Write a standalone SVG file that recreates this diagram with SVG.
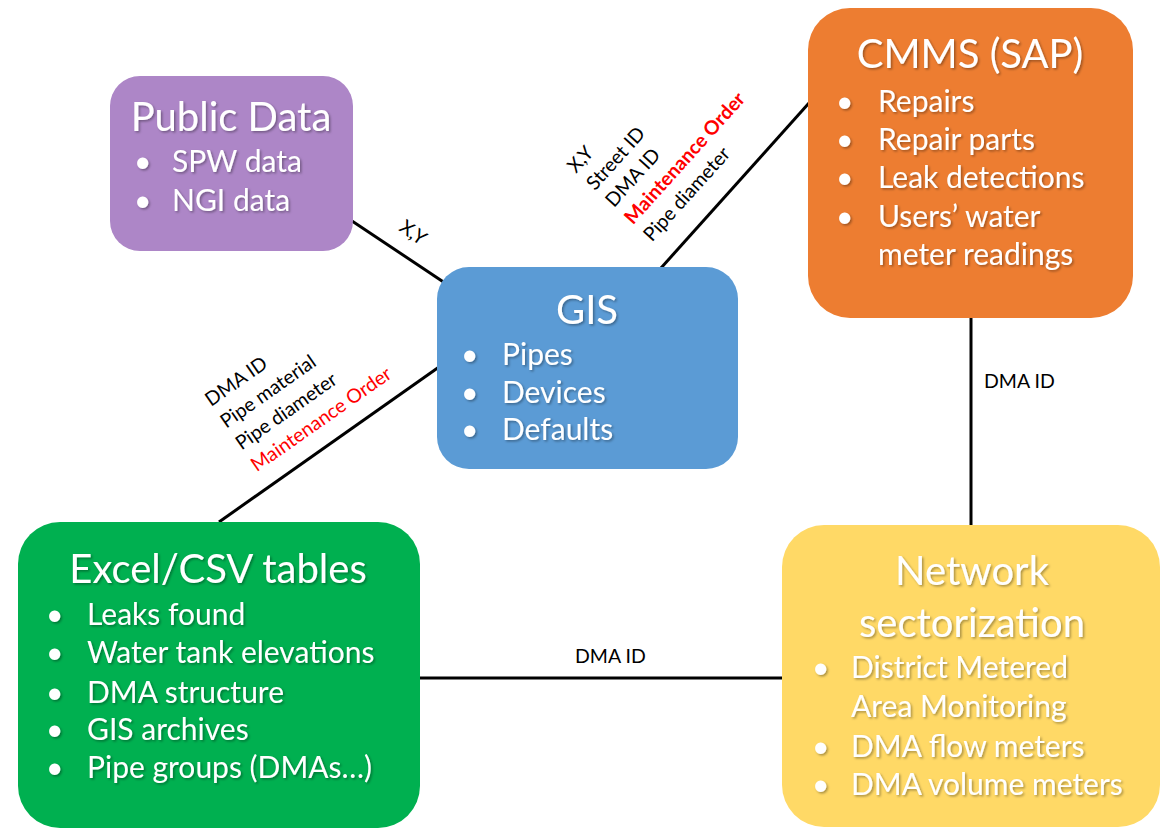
<svg xmlns="http://www.w3.org/2000/svg" width="1162" height="829" viewBox="0 0 1162 829">
  <defs>
    <filter id="sh" x="-10%" y="-10%" width="120%" height="130%">
      <feDropShadow dx="1.5" dy="1.5" stdDeviation="1" flood-color="#000" flood-opacity="0.35"/>
    </filter>
  </defs>
  <style>
    .box { stroke: none; }
    .t { font-family: Lato, "Open Sans", "Liberation Sans", sans-serif; fill: #fff; }
    .title { font-size: 40px; text-anchor: middle; }
    .item { font-size: 30px; }
    .conn { stroke: #000; stroke-width: 3; fill: none; }
    .lbl { font-family: Lato, "Open Sans", "Liberation Sans", sans-serif; font-size: 19.5px; fill: #000; }
    .red { fill: #ff0000; }
    .bold { font-weight: bold; }
  </style>
  <rect width="1162" height="829" fill="#fff"/>

  <g id="connectors">
    <line class="conn" x1="352" y1="221" x2="445" y2="283"/>
    <line class="conn" x1="661" y1="268" x2="809" y2="103"/>
    <line class="conn" x1="439" y1="367" x2="219" y2="522"/>
    <line class="conn" x1="971" y1="316" x2="971" y2="526"/>
    <line class="conn" x1="417" y1="678" x2="783" y2="678"/>
    <text class="lbl" transform="translate(398,230) rotate(35)">X,Y</text>
    <g transform="translate(576,174) rotate(-48)">
      <text class="lbl" x="0" y="0">X,Y</text>
      <text class="lbl" x="0" y="25.6">Street ID</text>
      <text class="lbl" x="0" y="51.2">DMA ID</text>
      <text class="lbl red bold" x="0" y="76.8">Maintenance Order</text>
      <text class="lbl" x="0" y="102.4">Pipe diameter</text>
    </g>
    <g transform="translate(211,407) rotate(-35)">
      <text class="lbl" x="0" y="0">DMA ID</text>
      <text class="lbl" x="0" y="26.6">Pipe material</text>
      <text class="lbl" x="0" y="53.2">Pipe diameter</text>
      <text class="lbl red" x="0" y="79.8">Maintenance Order</text>
    </g>
    <text class="lbl" x="984" y="388">DMA ID</text>
    <text class="lbl" x="575" y="663">DMA ID</text>
  </g>

  <g id="public-data">
    <rect class="box" x="110" y="76" width="243" height="175" rx="30" fill="#AD86C7"/>
    <g class="t" filter="url(#sh)">
      <text class="title" x="231" y="131">Public Data</text>
      <text class="item" x="134" y="172">•</text>
      <text class="item" x="172" y="172">SPW data</text>
      <text class="item" x="134" y="211">•</text>
      <text class="item" x="172" y="211">NGI data</text>
    </g>
  </g>

  <g id="gis">
    <rect class="box" x="437" y="267" width="301" height="202" rx="32" fill="#5B9BD5"/>
    <g class="t" filter="url(#sh)">
      <text class="title" x="587" y="324">GIS</text>
      <text class="item" x="461" y="365">•</text>
      <text class="item" x="502" y="365">Pipes</text>
      <text class="item" x="461" y="403">•</text>
      <text class="item" x="502" y="403">Devices</text>
      <text class="item" x="461" y="440">•</text>
      <text class="item" x="502" y="440">Defaults</text>
    </g>
  </g>

  <g id="cmms">
    <rect class="box" x="808" y="8" width="325" height="310" rx="42" fill="#ED7D31"/>
    <g class="t" filter="url(#sh)">
      <text class="title" x="970" y="68">CMMS (SAP)</text>
      <text class="item" x="836" y="112">•</text>
      <text class="item" x="878" y="112">Repairs</text>
      <text class="item" x="836" y="150">•</text>
      <text class="item" x="878" y="150">Repair parts</text>
      <text class="item" x="836" y="188">•</text>
      <text class="item" x="878" y="188">Leak detections</text>
      <text class="item" x="836" y="227">•</text>
      <text class="item" x="878" y="227">Users’ water</text>
      <text class="item" x="878" y="265">meter readings</text>
    </g>
  </g>

  <g id="excel">
    <rect class="box" x="18" y="522" width="402" height="306" rx="42" fill="#00B050"/>
    <g class="t" filter="url(#sh)">
      <text class="title" x="218" y="583">Excel/CSV tables</text>
      <text class="item" x="46" y="625">•</text>
      <text class="item" x="87" y="625">Leaks found</text>
      <text class="item" x="46" y="663">•</text>
      <text class="item" x="87" y="663">Water tank elevations</text>
      <text class="item" x="46" y="703">•</text>
      <text class="item" x="87" y="703">DMA structure</text>
      <text class="item" x="46" y="740">•</text>
      <text class="item" x="87" y="740">GIS archives</text>
      <text class="item" x="46" y="778">•</text>
      <text class="item" x="87" y="778">Pipe groups (DMAs…)</text>
    </g>
  </g>

  <g id="network">
    <rect class="box" x="782" y="525" width="378" height="302" rx="42" fill="#FFD966"/>
    <g class="t" filter="url(#sh)">
      <text class="title" x="972" y="585">Network</text>
      <text class="title" x="972" y="637">sectorization</text>
      <text class="item" x="812" y="678">•</text>
      <text class="item" x="851" y="678">District Metered</text>
      <text class="item" x="851" y="717">Area Monitoring</text>
      <text class="item" x="812" y="757">•</text>
      <text class="item" x="851" y="757">DMA flow meters</text>
      <text class="item" x="812" y="795">•</text>
      <text class="item" x="851" y="795">DMA volume meters</text>
    </g>
  </g>
</svg>
